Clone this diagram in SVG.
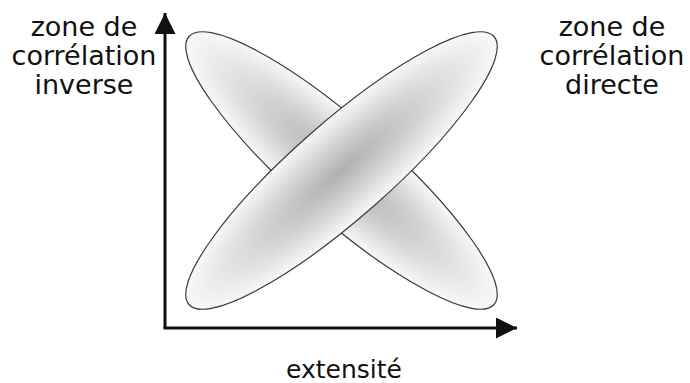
<svg xmlns="http://www.w3.org/2000/svg" width="690" height="383" viewBox="0 0 690 383">
<defs>
<radialGradient id="g" cx="0.5" cy="0.5" r="0.5">
<stop offset="0" stop-color="#b0b0b0"/>
<stop offset="0.5" stop-color="#d2d2d2"/>
<stop offset="1" stop-color="#f8f8f8"/>
</radialGradient>
<marker id="ah" viewBox="0 0 10 10" refX="10" refY="5" markerWidth="7" markerHeight="7" orient="auto" markerUnits="strokeWidth">
<path d="M0,0 L10,5 L0,10 z" fill="#111"/>
</marker>
<style>
.lbl{font-family:"DejaVu Sans",Verdana,sans-serif;font-size:27px;fill:#111;text-anchor:middle}
.small{font-size:25px}
.ell{fill:url(#g);stroke:#3a3a3a;stroke-width:1.2}
.axis{stroke:#111;stroke-width:3;fill:none}
</style>
</defs>
<rect width="690" height="383" fill="#fff"/>
<g id="zone-inverse">
<ellipse class="ell" cx="341.5" cy="170.5" rx="203" ry="48" transform="rotate(41.3 341.5 170.5)"/>
</g>
<g id="zone-directe">
<ellipse class="ell" cx="341.5" cy="170.5" rx="203" ry="48" transform="rotate(-41.3 341.5 170.5)"/>
</g>
<g id="connectors">
<line class="axis" x1="165" y1="328" x2="165" y2="13" marker-end="url(#ah)"/>
<line class="axis" x1="163.5" y1="328" x2="517" y2="328" marker-end="url(#ah)"/>
</g>
<g id="label-inverse">
<text class="lbl" x="84" y="36">zone de</text>
<text class="lbl" x="84" y="65">corrélation</text>
<text class="lbl" x="84" y="94">inverse</text>
</g>
<g id="label-directe">
<text class="lbl" x="612" y="36">zone de</text>
<text class="lbl" x="612" y="65">corrélation</text>
<text class="lbl" x="612" y="94">directe</text>
</g>
<g id="label-x">
<text class="lbl small" x="344" y="378">extensité</text>
</g>
</svg>
